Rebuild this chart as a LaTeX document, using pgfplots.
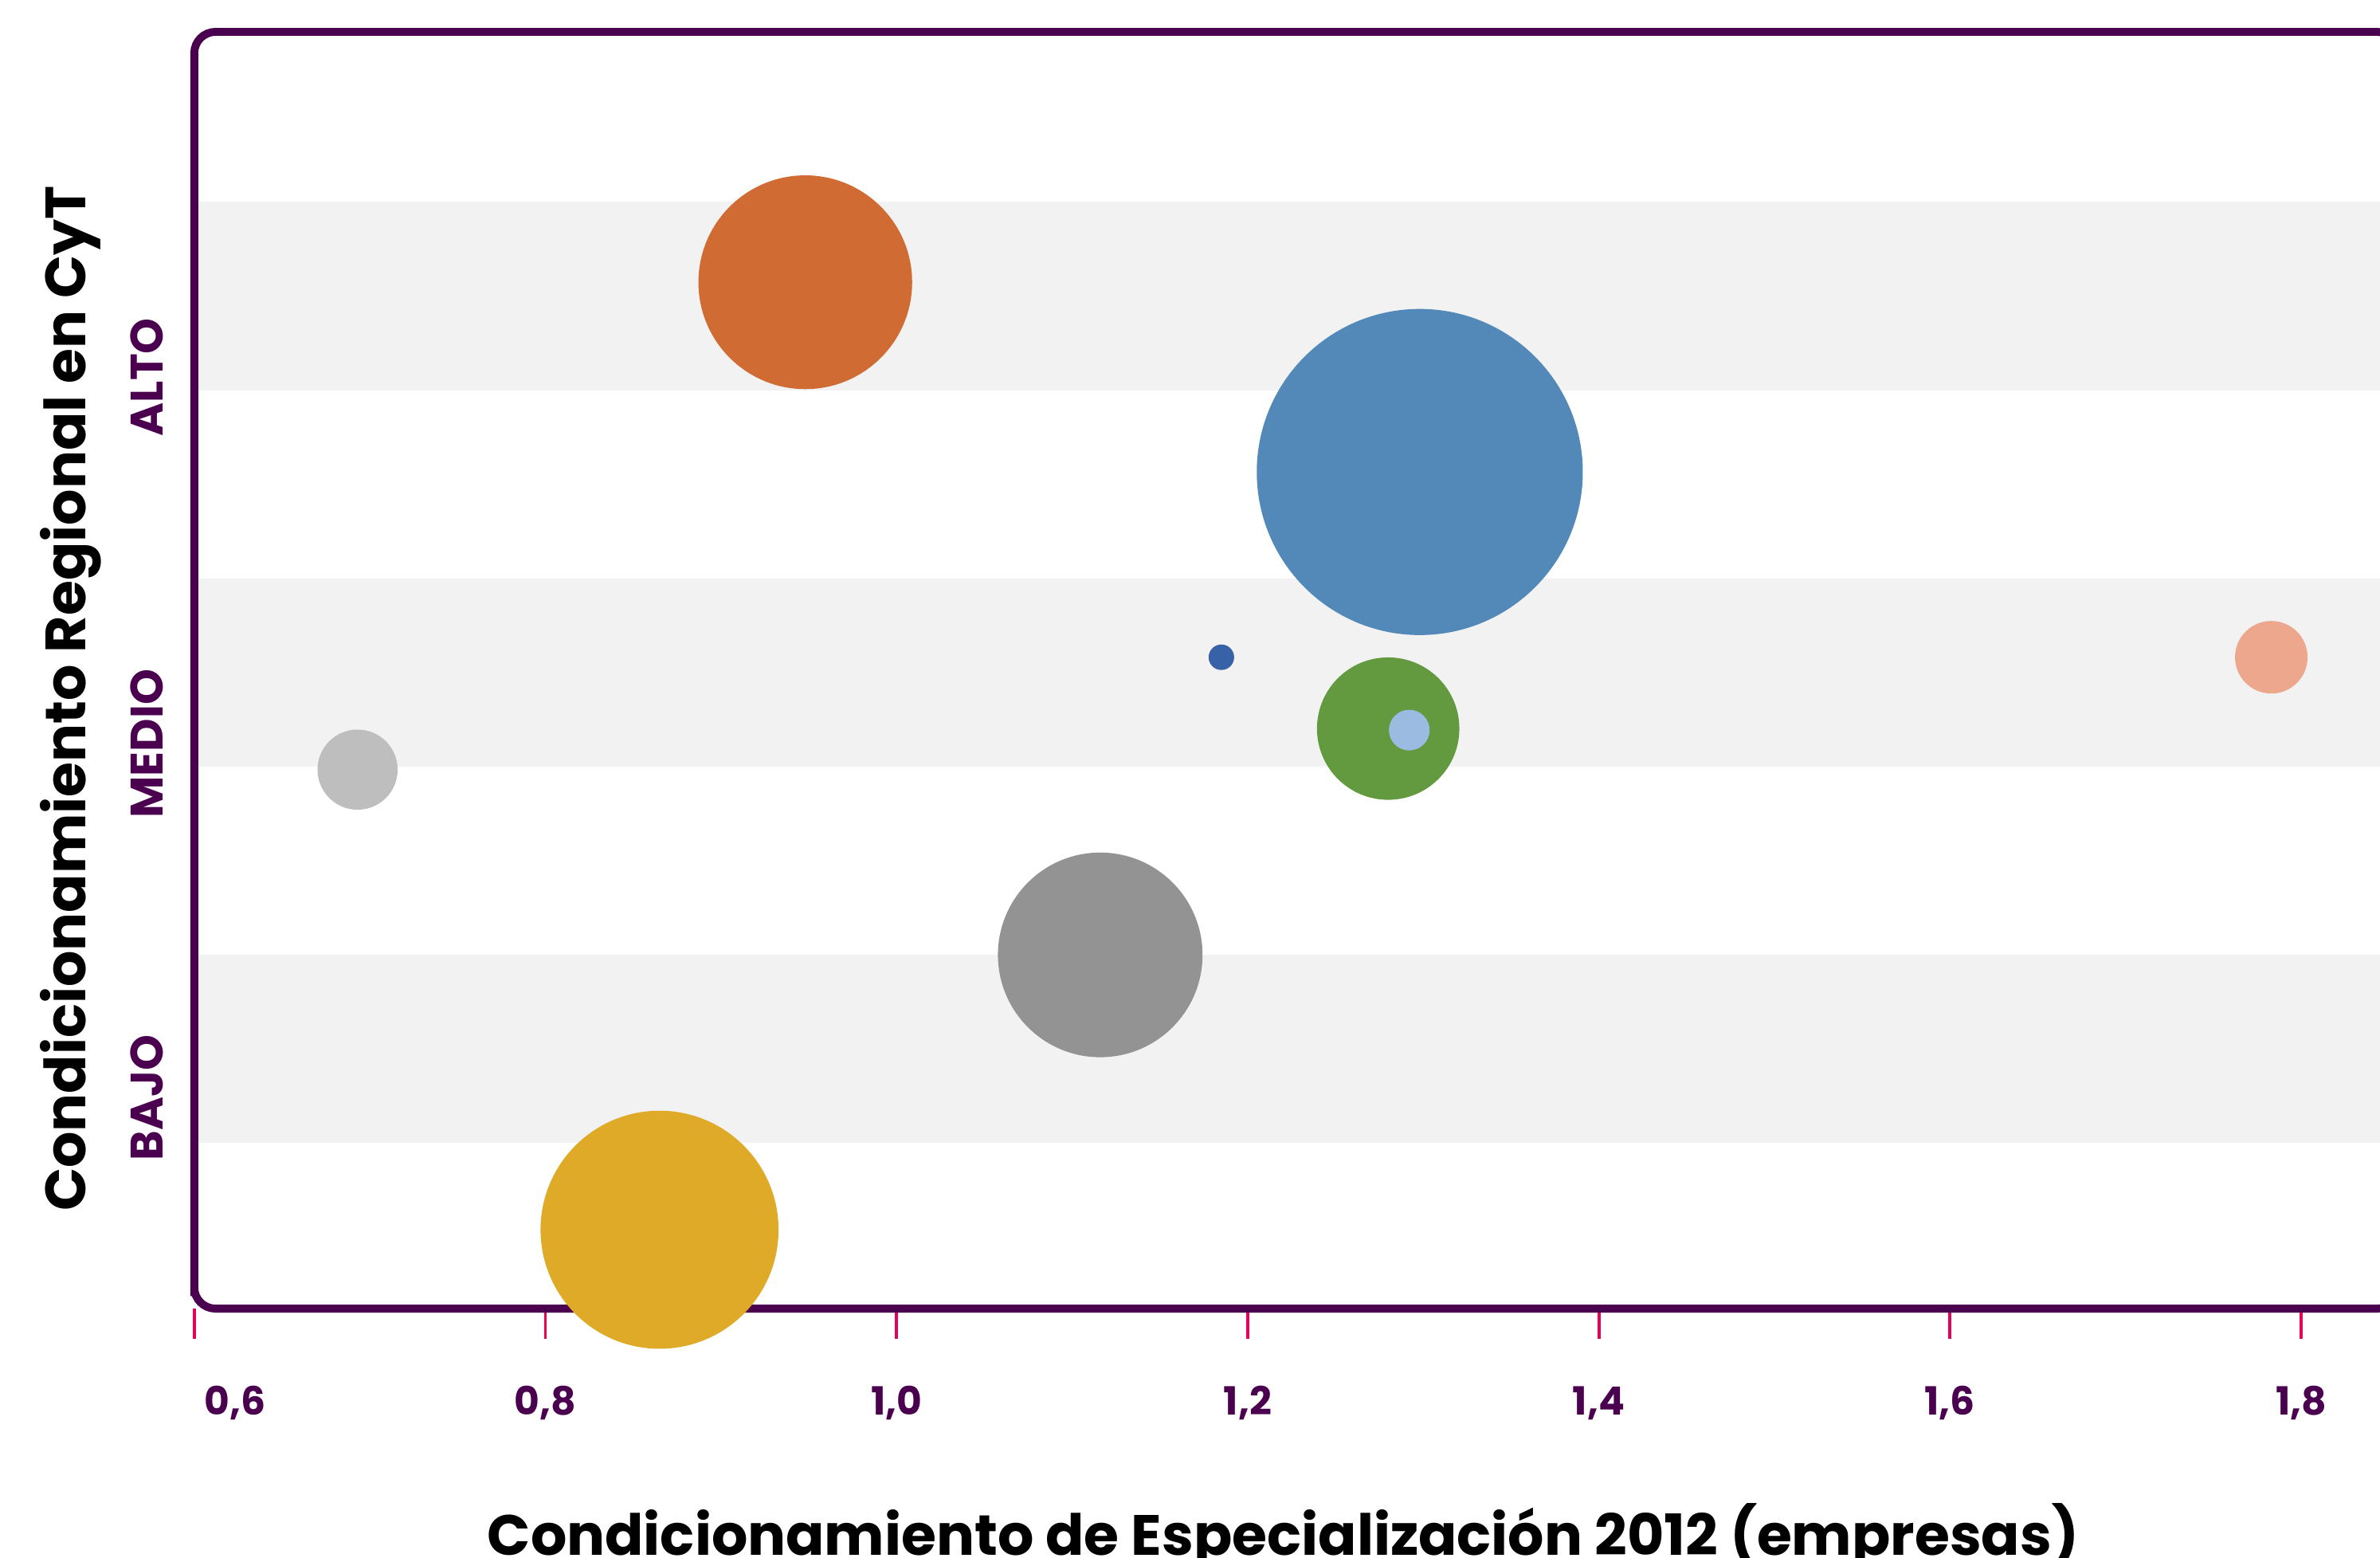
\documentclass[border=0pt]{standalone}
\usepackage{fontspec}
\setmainfont{Poppins}
\usepackage{pgfplots}
\pgfplotsset{compat=1.18}
\definecolor{framepurple}{HTML}{4A004F}
\definecolor{tickpink}{HTML}{E6005A}
\definecolor{band}{HTML}{F2F2F2}
\definecolor{cOrange}{HTML}{D06B33}
\definecolor{cBlue}{HTML}{5389B9}
\definecolor{cDarkBlue}{HTML}{3862A8}
\definecolor{cSalmon}{HTML}{EDA78C}
\definecolor{cGreen}{HTML}{63993F}
\definecolor{cLightBlue}{HTML}{9CBBE0}
\definecolor{cLightGray}{HTML}{BEBEBE}
\definecolor{cGray}{HTML}{939393}
\definecolor{cYellow}{HTML}{DFAA28}
\begin{document}
\begin{tikzpicture}
\begin{axis}[
  scale only axis,
  width=726pt, height=420.5pt,
  xmin=0.6, xmax=1.8553,
  ymin=0.121, ymax=6.903,
  clip=false,
  axis on top,
  axis line style={color=framepurple, line width=2.6pt, rounded corners=7pt},
  xtick={0.6,0.8,1.0,1.2,1.4,1.6,1.8},
  xticklabels={{\hspace*{27pt}0,6},{0,8},{1,0},{1,2},{1,4},{1,6},{1,8}},
  xtick pos=bottom,
  tick align=outside,
  major tick length=10pt,
  xtick style={color=tickpink, line width=1pt},
  xticklabel style={font=\fontsize{12.8}{14}\selectfont\bfseries, text=framepurple, anchor=base, inner sep=0pt, yshift=-25pt},
  ytick={1.242,3.121,5.069},
  yticklabels={BAJO,MEDIO,ALTO},
  ytick pos=left,
  ytick style={draw=none},
  yticklabel style={rotate=90, anchor=south, inner sep=0pt, font=\fontsize{15}{17}\selectfont\bfseries, text=framepurple},
  xlabel={Condicionamiento de Especialización 2012 (empresas)},
  ylabel={Condicionamiento Regional en CyT},
  every axis x label/.style={at={(axis description cs:0.4941,0)}, anchor=base, yshift=-81.25pt, inner sep=0pt, font=\fontsize{18.7}{20}\selectfont\bfseries},
  every axis y label/.style={at={(axis description cs:-0.042,0.478)}, rotate=90, anchor=south, inner sep=0pt, font=\fontsize{18.7}{20}\selectfont\bfseries},
]
\fill[band] (axis cs:0.6,1) rectangle (axis cs:1.8553,2);
\fill[band] (axis cs:0.6,3) rectangle (axis cs:1.8553,4);
\fill[band] (axis cs:0.6,5) rectangle (axis cs:1.8553,6);
\addplot[only marks, mark=*, color=cOrange, mark size=35pt, mark options={draw=none}] coordinates {(0.948,5.573)};
\addplot[only marks, mark=*, color=cBlue, mark size=53.5pt, mark options={draw=none}] coordinates {(1.298,4.565)};
\addplot[only marks, mark=*, color=cDarkBlue, mark size=4pt, mark options={draw=none}] coordinates {(1.185,3.581)};
\addplot[only marks, mark=*, color=cSalmon, mark size=11.75pt, mark options={draw=none}] coordinates {(1.783,3.581)};
\addplot[only marks, mark=*, color=cGreen, mark size=23.25pt, mark options={draw=none}] coordinates {(1.280,3.202)};
\addplot[only marks, mark=*, color=cLightBlue, mark size=6.5pt, mark options={draw=none}] coordinates {(1.292,3.194)};
\addplot[only marks, mark=*, color=cLightGray, mark size=13pt, mark options={draw=none}] coordinates {(0.693,2.984)};
\addplot[only marks, mark=*, color=cGray, mark size=33.5pt, mark options={draw=none}] coordinates {(1.116,2.0)};
\addplot[only marks, mark=*, color=cYellow, mark size=39pt, mark options={draw=none}] coordinates {(0.865,0.540)};
\end{axis}
\pgfresetboundingbox
\path[use as bounding box] (-64pt,-82pt) rectangle (720pt,431pt);
\end{tikzpicture}
\end{document}
